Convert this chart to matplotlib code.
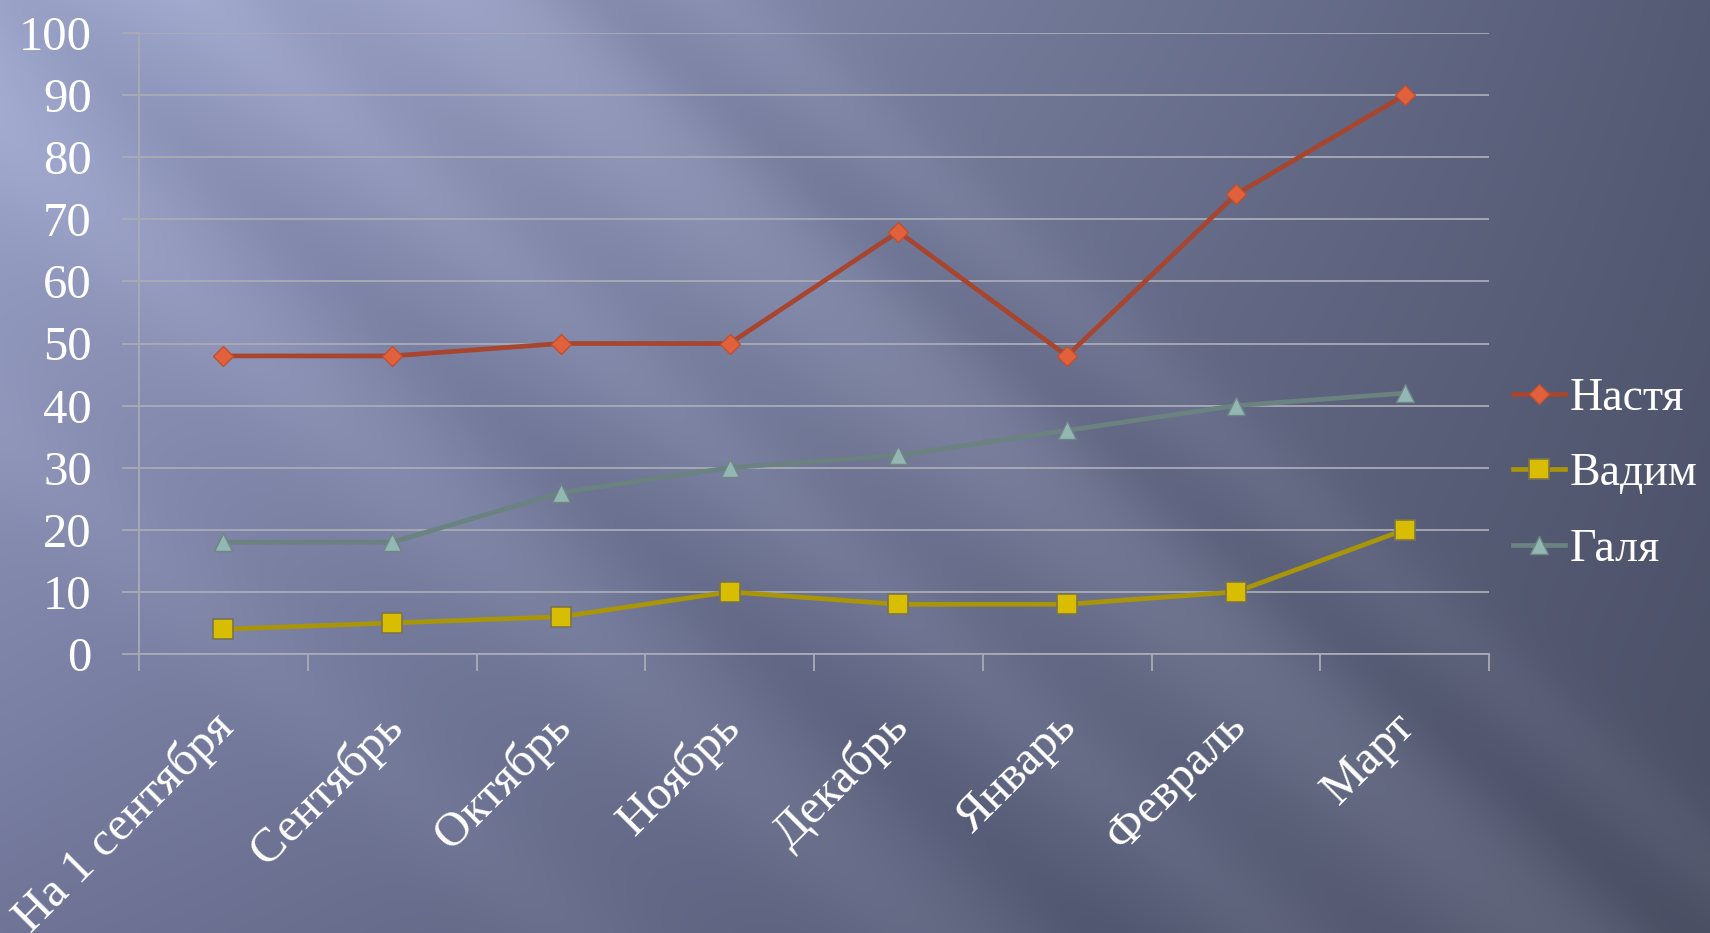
import numpy as np
import matplotlib
matplotlib.use("Agg")
import matplotlib.pyplot as plt
import matplotlib.transforms as mtransforms

categories = ["На 1 сентября", "Сентябрь", "Октябрь", "Ноябрь", "Декабрь", "Январь", "Февраль", "Март"]
nastya = [48, 48, 50, 50, 68, 48, 74, 90]
vadim = [4, 5, 6, 10, 8, 8, 10, 20]
galya = [18, 18, 26, 30, 32, 36, 40, 42]
yticks = [0, 10, 20, 30, 40, 50, 60, 70, 80, 90, 100]

W, H = 1710, 933
fig = plt.figure(figsize=(W / 100, H / 100), dpi=100)

# background gradient with diagonal streaks
yy, xx = np.mgrid[0:H, 0:W].astype(float)
fx = xx / W
fy = yy / H
tl = np.array([160, 168, 206.0])
tr = np.array([84, 90, 116.0])
bl = np.array([112, 117, 152.0])
br = np.array([74, 79, 100.0])
img = (tl[None, None] * ((1 - fx) * (1 - fy))[..., None] + tr[None, None] * (fx * (1 - fy))[..., None]
       + bl[None, None] * ((1 - fx) * fy)[..., None] + br[None, None] * (fx * fy)[..., None])
u = xx - 1.15 * yy
bright = (16 * np.exp(-((u - 470) / 120) ** 2) + 10 * np.exp(-((u - 200) / 70) ** 2)
          + 8 * np.exp(-((u - 720) / 60) ** 2) + 9 * np.exp(-((u + 150) / 90) ** 2)
          + 6 * np.exp(-((u + 500) / 80) ** 2) - 6 * np.exp(-((u - 20) / 60) ** 2)
          - 5 * np.exp(-((u - 600) / 50) ** 2))
img = img + bright[..., None]
img = np.clip(img, 0, 255) / 255.0
bg = fig.add_axes([0, 0, 1, 1], zorder=-10)
bg.imshow(img, aspect="auto", interpolation="bilinear")
bg.axis("off")

plt.rcParams["font.family"] = ["Liberation Serif", "DejaVu Serif"]

ax = fig.add_axes([139 / W, 1 - 654 / H, (1489 - 139) / W, (654 - 33) / H])
ax.patch.set_alpha(0)
x = np.arange(len(categories)) + 0.5

ax.plot(x, nastya, color="#a8452f", lw=3.4, marker="D", ms=10.5, mfc="#e2613d", mec="#c0502f", mew=1, label="Настя", zorder=5)
ax.plot(x, vadim, color="#a89508", lw=3.4, marker="s", ms=14, mfc="#d8bd00", mec="#7a7450", mew=1.2, label="Вадим", zorder=5)
ax.plot(x, galya, color="#6a8280", lw=3.4, marker="^", ms=13, mfc="#93b7b3", mec="#6e8785", mew=1, label="Галя", zorder=5)

ax.set_xlim(0, len(categories))
ax.set_ylim(0, 100)
ax.set_yticks(yticks)
ax.set_yticklabels([str(v) for v in yticks])
ax.yaxis.grid(True, color="#a9abb6", lw=1.3)
ax.set_axisbelow(True)
ax.set_xticks(np.arange(len(categories) + 1))
ax.set_xticklabels([])
ax.set_xticks(x, minor=True)
ax.set_xticklabels(categories, minor=True, rotation=45, ha="right", va="top", rotation_mode="anchor")
ax.tick_params(axis="x", which="minor", length=0, pad=36, labelsize=35, labelcolor="white")
ax.tick_params(axis="x", which="major", length=12, width=1.3, color="#a9abb6", direction="out")
ax.tick_params(axis="y", length=12, width=1.3, color="#a9abb6", pad=22, labelsize=35, labelcolor="white")
shift = mtransforms.ScaledTranslation(-13 / 100, 0, fig.dpi_scale_trans)
for lab in ax.get_xticklabels(minor=True):
    lab.set_transform(lab.get_transform() + shift)
for s in ["top", "right"]:
    ax.spines[s].set_visible(False)
for s in ["left", "bottom"]:
    ax.spines[s].set_color("#a9abb6")
    ax.spines[s].set_linewidth(1.3)

leg = ax.legend(loc="center left", bbox_to_anchor=(1.004, 0.29), frameon=False, fontsize=33,
                handlelength=1.15, handletextpad=0.1, labelspacing=0.72, borderaxespad=0)
for t in leg.get_texts():
    t.set_color("white")

fig.savefig("out.png", dpi=100)
